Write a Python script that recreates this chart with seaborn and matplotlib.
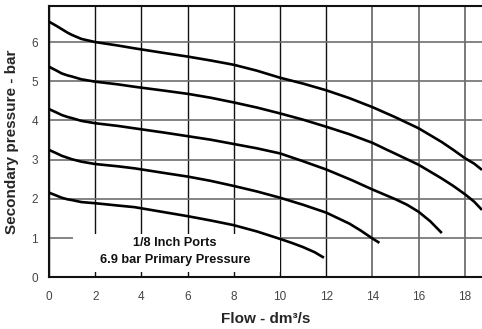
import matplotlib
matplotlib.use("Agg")
import matplotlib.pyplot as plt
from matplotlib.patches import Rectangle
import seaborn as sns
import pandas as pd

# curve values (flow dm3/s, secondary pressure bar)
flow_1 = [0, 0.3, 0.55, 0.8, 1.0, 1.4, 2, 3, 3.7, 5, 6, 7, 8, 9, 10, 11, 12, 13, 14, 15, 16, 17, 17.5, 18, 18.4, 18.74]
pres_1 = [6.52, 6.42, 6.33, 6.24, 6.18, 6.08, 6.0, 5.91, 5.84, 5.72, 5.63, 5.53, 5.42, 5.27, 5.09, 4.94, 4.77, 4.57, 4.34, 4.08, 3.80, 3.45, 3.25, 3.04, 2.90, 2.74]

flow_2 = [0, 0.3, 0.55, 0.8, 1.0, 1.4, 2, 3, 3.7, 5, 6, 7, 8, 9, 10, 11, 12, 13, 14, 14.6, 15, 16, 17, 17.5, 18, 18.4, 18.74]
pres_2 = [5.37, 5.28, 5.20, 5.15, 5.12, 5.05, 4.99, 4.92, 4.86, 4.76, 4.68, 4.58, 4.46, 4.33, 4.18, 4.02, 3.84, 3.65, 3.43, 3.26, 3.15, 2.87, 2.52, 2.33, 2.12, 1.93, 1.72]

flow_3 = [0, 0.3, 0.55, 0.8, 1.0, 1.4, 2, 3, 3.7, 5, 6, 7, 8, 9, 10, 11, 12, 13.1, 14, 15, 15.5, 16, 16.5, 17.0]
pres_3 = [4.29, 4.21, 4.14, 4.09, 4.06, 3.99, 3.93, 3.86, 3.80, 3.69, 3.60, 3.51, 3.40, 3.29, 3.16, 2.96, 2.75, 2.48, 2.24, 1.99, 1.85, 1.67, 1.43, 1.13]

flow_4 = [0, 0.3, 0.55, 0.8, 1.0, 1.4, 2, 3, 3.7, 5, 6, 7, 8, 9, 10, 11, 12, 13, 13.5, 14, 14.3]
pres_4 = [3.25, 3.17, 3.10, 3.05, 3.01, 2.95, 2.89, 2.83, 2.78, 2.66, 2.57, 2.46, 2.33, 2.19, 2.03, 1.85, 1.65, 1.37, 1.19, 0.99, 0.88]

flow_5 = [0, 0.3, 0.55, 0.8, 1.0, 1.4, 2, 3, 3.7, 5, 6, 7, 8, 9, 10, 10.5, 11, 11.5, 11.9]
pres_5 = [2.16, 2.09, 2.03, 1.99, 1.97, 1.92, 1.89, 1.83, 1.79, 1.66, 1.56, 1.45, 1.33, 1.17, 0.98, 0.88, 0.77, 0.64, 0.50]

x_ticks = [0, 2, 4, 6, 8, 10, 12, 14, 16, 18]
y_ticks = [0, 1, 2, 3, 4, 5, 6]

curves = [(flow_1, pres_1), (flow_2, pres_2), (flow_3, pres_3), (flow_4, pres_4), (flow_5, pres_5)]
rows = []
for k, (fx, py) in enumerate(curves):
    for a, b in zip(fx, py):
        rows.append({"curve": k, "flow": a, "pressure": b})
df = pd.DataFrame(rows)

sns.set_style("white")
plt.rcParams["font.family"] = ["Liberation Sans", "DejaVu Sans"]

fig = plt.figure(figsize=(4.82, 3.29), dpi=100)
ax = fig.add_axes([0.1017, 0.157, 0.8983, 0.826])

sns.lineplot(data=df, x="flow", y="pressure", units="curve", estimator=None,
             sort=False, color="black", linewidth=1.9, ax=ax, zorder=3,
             solid_joinstyle="round", solid_capstyle="butt")

ax.set_xlim(0, 18.74)
ax.set_ylim(0, 6.93)
ax.set_xticks(x_ticks)
ax.set_yticks(y_ticks)

# grid: darker verticals on the left part, grey elsewhere
ax.set_axisbelow(True)
ax.grid(True, lw=1.0)
for v, gl in zip(x_ticks, ax.get_xgridlines()):
    gl.set_color("#111111" if v <= 12 else "#7a7a7a")
    gl.set_linewidth(1.0 if v <= 12 else 1.4)
for gl in ax.get_ygridlines():
    gl.set_color("#6e6e6e")
    gl.set_linewidth(1.2)

# white panel behind the note
ax.add_patch(Rectangle((1.04, 0.13), 8.96, 0.97, facecolor="white",
                       edgecolor="none", zorder=1))
ax.text(5.45, 0.87, "1/8 Inch Ports", ha="center", va="center",
        fontsize=9.2, fontweight="bold", color="#111111", zorder=4)
ax.text(5.45, 0.44, "6.9 bar Primary Pressure", ha="center", va="center",
        fontsize=9.2, fontweight="bold", color="#111111", zorder=4)

for s in ["left", "bottom", "top"]:
    ax.spines[s].set_visible(True)
    ax.spines[s].set_color("#111111")
    ax.spines[s].set_linewidth(1.5)
ax.spines["right"].set_visible(False)

ax.tick_params(axis="both", direction="out", length=4, width=1, color="#111111",
               labelsize=8.5, labelcolor="#444444")
ax.tick_params(axis="x", pad=6)
ax.tick_params(axis="y", pad=4)

ax.set_xlabel("Flow - dm³/s", fontsize=11, fontweight="bold", labelpad=6)
ax.set_ylabel("Secondary pressure - bar", fontsize=11, fontweight="bold", labelpad=9)

fig.savefig("out.png", dpi=100)
